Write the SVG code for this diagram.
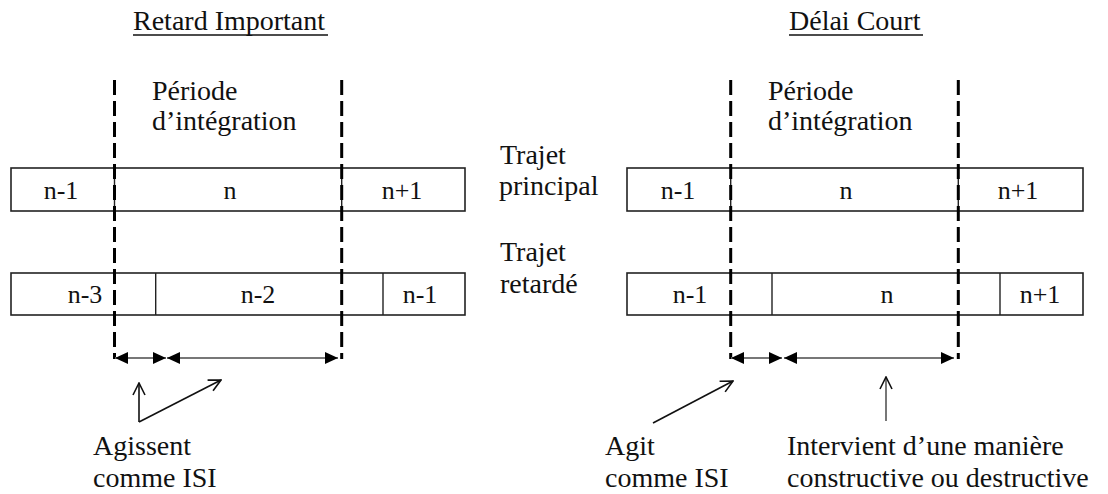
<svg xmlns="http://www.w3.org/2000/svg" width="1108" height="494" viewBox="0 0 1108 494">
<defs>
<style>
text{font-family:"Liberation Serif","Times New Roman",serif;fill:#111}
.lbl{font-size:28px}
.cell{font-size:26px;text-anchor:middle}
.box{fill:#fff;stroke:#222;stroke-width:1.6}
.div{stroke:#222;stroke-width:1.4}
.dash{stroke:#000;stroke-width:3;stroke-dasharray:15 6;fill:none}
.dim{stroke:#777;stroke-width:2.2;fill:none}
.ptr{stroke:#111;stroke-width:1.6;fill:none}
.ul{stroke:#111;stroke-width:1.3}
</style>
<marker id="tri" viewBox="0 0 13 12" refX="13" refY="6" markerWidth="13" markerHeight="12" markerUnits="userSpaceOnUse" orient="auto-start-reverse">
<path d="M0,0 L13,6 L0,12 Z" fill="#000"/>
</marker>
<marker id="open" viewBox="0 0 14 14" refX="13" refY="7" markerWidth="14" markerHeight="14" markerUnits="userSpaceOnUse" orient="auto">
<path d="M1,1 L13,7 L1,13" fill="none" stroke="#111" stroke-width="1.6"/>
</marker>
</defs>

<g id="left-panel">
<g id="title-left">
<text class="lbl" x="133" y="30">Retard Important</text>
<line class="ul" x1="133" y1="35" x2="328" y2="35"/>
</g>
<g id="periode-left">
<text class="lbl" x="152" y="100">Période</text>
<text class="lbl" x="152" y="130">d’intégration</text>
</g>
<g id="main-left">
<rect class="box" x="11" y="168" width="454" height="43"/>
<line class="div" x1="114.5" y1="168" x2="114.5" y2="211"/>
<line class="div" x1="341.7" y1="168" x2="341.7" y2="211"/>
<text class="cell" x="61" y="199">n-1</text>
<text class="cell" x="230" y="199">n</text>
<text class="cell" x="402" y="199">n+1</text>
</g>
<g id="delayed-left">
<rect class="box" x="11" y="273" width="454" height="42"/>
<line class="div" x1="155.7" y1="273" x2="155.7" y2="315"/>
<line class="div" x1="383" y1="273" x2="383" y2="315"/>
<text class="cell" x="85" y="303">n-3</text>
<text class="cell" x="258" y="303">n-2</text>
<text class="cell" x="420" y="303">n-1</text>
</g>
<g id="label-left">
<text class="lbl" x="93" y="455">Agissent</text>
<text class="lbl" x="93" y="487">comme ISI</text>
</g>
</g>

<g id="path-labels">
<text class="lbl" x="500" y="164">Trajet</text>
<text class="lbl" x="499" y="195">principal</text>
<text class="lbl" x="500" y="261">Trajet</text>
<text class="lbl" x="500" y="293">retardé</text>
</g>

<g id="right-panel">
<g id="title-right">
<text class="lbl" x="789" y="30">Délai Court</text>
<line class="ul" x1="789" y1="35" x2="923" y2="35"/>
</g>
<g id="periode-right">
<text class="lbl" x="768" y="100">Période</text>
<text class="lbl" x="768" y="130">d’intégration</text>
</g>
<g id="main-right">
<rect class="box" x="627" y="168" width="456" height="43"/>
<line class="div" x1="730.7" y1="168" x2="730.7" y2="211"/>
<line class="div" x1="958.3" y1="168" x2="958.3" y2="211"/>
<text class="cell" x="678" y="199">n-1</text>
<text class="cell" x="846" y="199">n</text>
<text class="cell" x="1018" y="199">n+1</text>
</g>
<g id="delayed-right">
<rect class="box" x="627" y="273" width="456" height="42"/>
<line class="div" x1="772" y1="273" x2="772" y2="315"/>
<line class="div" x1="1000" y1="273" x2="1000" y2="315"/>
<text class="cell" x="690" y="303">n-1</text>
<text class="cell" x="887" y="303">n</text>
<text class="cell" x="1040" y="303">n+1</text>
</g>
<g id="label-right-1">
<text class="lbl" x="605" y="455">Agit</text>
<text class="lbl" x="605" y="487">comme ISI</text>
</g>
<g id="label-right-2">
<text class="lbl" x="787" y="455">Intervient d’une manière</text>
<text class="lbl" x="787" y="487">constructive ou destructive</text>
</g>
</g>

<g id="connectors">
<line class="dash" x1="114.5" y1="80" x2="114.5" y2="359"/>
<line class="dash" x1="341.7" y1="80" x2="341.7" y2="359"/>
<line class="dash" x1="730.7" y1="80" x2="730.7" y2="359"/>
<line class="dash" x1="958.3" y1="80" x2="958.3" y2="359"/>
<line class="dim" x1="115" y1="358" x2="166" y2="358" marker-start="url(#tri)" marker-end="url(#tri)"/>
<line class="dim" x1="167" y1="358" x2="338" y2="358" marker-start="url(#tri)" marker-end="url(#tri)"/>
<line class="dim" x1="731" y1="358" x2="782" y2="358" marker-start="url(#tri)" marker-end="url(#tri)"/>
<line class="dim" x1="784" y1="358" x2="954" y2="358" marker-start="url(#tri)" marker-end="url(#tri)"/>
<line class="ptr" x1="139" y1="422" x2="139" y2="383" marker-end="url(#open)"/>
<line class="ptr" x1="139" y1="422" x2="221" y2="380" marker-end="url(#open)"/>
<line class="ptr" x1="653" y1="423" x2="733" y2="381" marker-end="url(#open)"/>
<line class="ptr" x1="886" y1="421" x2="886" y2="377" marker-end="url(#open)" style="stroke:#555"/>
</g>
</svg>
